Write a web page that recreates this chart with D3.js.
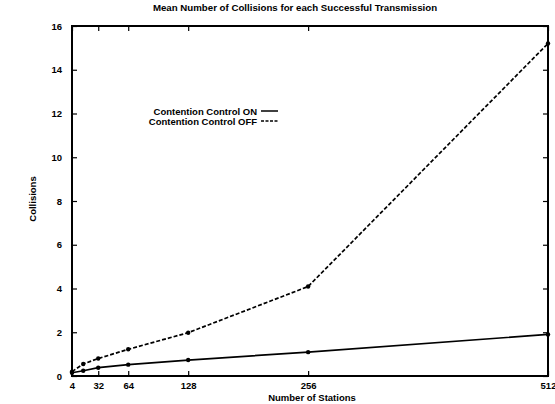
<!DOCTYPE html>
<html>
<head>
<meta charset="utf-8">
<script src="https://cdn.jsdelivr.net/npm/d3@7"></script>
<style>
  body { margin: 0; background: #fff; }
  svg { display: block; }
  text { font-family: "Liberation Sans", Arial, sans-serif; font-weight: bold; fill: #000; }
</style>
</head>
<body>
<svg id="chart" width="555" height="404"></svg>
<script>
// Number of stations on the network
const stations = [4, 16, 32, 64, 128, 256, 512];
// Mean collisions per successful transmission
const collisionsOn  = [0.15, 0.24, 0.38, 0.52, 0.73, 1.09, 1.90];
const collisionsOff = [0.20, 0.55, 0.80, 1.22, 1.98, 4.09, 15.20];
const xTicks = [4, 32, 64, 128, 256, 512];
const yTicks = [0, 2, 4, 6, 8, 10, 12, 14, 16];
const seriesNames = ["Contention Control ON", "Contention Control OFF"];

const svg = d3.select("#chart");
const m = { left: 72, right: 7, top: 26, bottom: 28 };
const W = 555, H = 404;

const x = d3.scaleLinear().domain([4, 512]).range([m.left, W - m.right]);
const y = d3.scaleLinear().domain([0, 16]).range([H - m.bottom, m.top]);

// frame
svg.append("rect")
  .attr("x", x(4)).attr("y", y(16))
  .attr("width", x(512) - x(4)).attr("height", y(0) - y(16))
  .attr("fill", "none").attr("stroke", "#000").attr("stroke-width", 2);

// axes with inward ticks (mirrored on top/right)
const fs = "9.5px";
const axBottom = svg.append("g").attr("transform", `translate(0,${y(0)})`)
  .call(d3.axisBottom(x).tickValues(xTicks).tickSizeInner(-5).tickSizeOuter(0).tickPadding(6));
const axTop = svg.append("g").attr("transform", `translate(0,${y(16)})`)
  .call(d3.axisTop(x).tickValues(xTicks).tickSizeInner(-5).tickSizeOuter(0).tickFormat(""));
const axLeft = svg.append("g").attr("transform", `translate(${x(4)},0)`)
  .call(d3.axisLeft(y).tickValues(yTicks).tickSizeInner(-5).tickSizeOuter(0).tickPadding(10));
const axRight = svg.append("g").attr("transform", `translate(${x(512)},0)`)
  .call(d3.axisRight(y).tickValues(yTicks).tickSizeInner(-5).tickSizeOuter(0).tickFormat(""));
[axBottom, axTop, axLeft, axRight].forEach(g => {
  g.select(".domain").remove();
  g.selectAll(".tick line").attr("stroke", "#000").attr("stroke-width", 1.2);
  g.selectAll("text").style("font-size", fs).style("font-weight", "bold")
    .style("font-family", '"Liberation Sans", Arial, sans-serif').attr("fill", "#000");
});

// lines
const line = d3.line().x((d, i) => x(stations[i])).y(d => y(d));
svg.append("path").datum(collisionsOn)
  .attr("d", line).attr("fill", "none").attr("stroke", "#000").attr("stroke-width", 1.7);
svg.append("path").datum(collisionsOff)
  .attr("d", line).attr("fill", "none").attr("stroke", "#000").attr("stroke-width", 1.7)
  .attr("stroke-dasharray", "4,2");

// point markers
[collisionsOn, collisionsOff].forEach(series => {
  svg.append("g").selectAll("circle").data(series).join("circle")
    .attr("cx", (d, i) => x(stations[i])).attr("cy", d => y(d))
    .attr("r", 2.2).attr("fill", "#000");
});

// title and axis labels
svg.append("text").attr("x", 295).attr("y", 11).attr("text-anchor", "middle")
  .style("font-size", "9.7px").text("Mean Number of Collisions for each Successful Transmission");
svg.append("text").attr("x", 312).attr("y", 401).attr("text-anchor", "middle")
  .style("font-size", "9.5px").text("Number of Stations");
svg.append("text").attr("transform", "translate(36,199) rotate(-90)").attr("text-anchor", "middle")
  .style("font-size", "9.5px").text("Collisions");

// legend
const lg = svg.append("g");
seriesNames.forEach((name, i) => {
  const ly = 111 + i * 10;
  lg.append("text").attr("x", 257).attr("y", ly + 3.5).attr("text-anchor", "end")
    .style("font-size", "9.5px").text(name);
  lg.append("line").attr("x1", 261).attr("x2", 278).attr("y1", ly).attr("y2", ly)
    .attr("stroke", "#000").attr("stroke-width", 1.5)
    .attr("stroke-dasharray", i === 1 ? "3,1.5" : null);
});
</script>
</body>
</html>
